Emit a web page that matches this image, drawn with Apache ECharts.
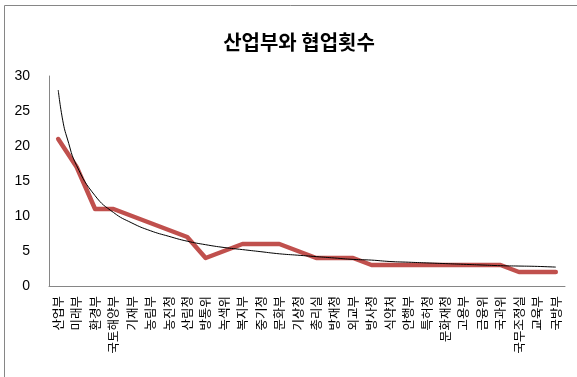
<!DOCTYPE html>
<html><head><meta charset="utf-8">
<script src="https://cdn.jsdelivr.net/npm/echarts@6/dist/echarts.min.js"></script>
<style>html,body{margin:0;padding:0;background:#fff}#c{width:577px;height:377px}</style>
</head><body><div id="c"></div>
<script>
const title = '산업부와 협업횟수';
const categories = ['산업부','미래부','환경부','국토해양부','기재부','농림부','농진청','산림청','방통위','녹색위',
  '복지부','중기청','문화부','기상청','총리실','방재청','외교부','방사청','식약처','안행부',
  '특허청','문화재청','고용부','금융위','국과위','국무조정실','교육부','국방부'];
const counts = [21,17,11,11,10,9,8,7,4,5,6,6,6,5,4,4,4,3,3,3,3,3,3,3,3,2,2,2];
// trend line (black) at category positions
const trendX = [1,1.25,1.5,2,3,4,5,6,7,8,9,10,11,12,13,14,15,16,17,18,19,20,21,22,23,24,25,26,27,28];
const trendY = [28,23.6,21.0,17.2,12.9,10.5,9.0,7.9,7.1,6.4,5.9,5.5,5.2,4.9,4.6,4.4,4.2,4.0,3.8,3.7,3.5,3.4,3.3,3.2,3.1,3.0,2.9,2.85,2.8,2.7];
const yMin = 0, yMax = 30, yStep = 5;

const chart = echarts.init(document.getElementById('c'), null, {renderer:'canvas'});
chart.setOption({
  animation:false,
  backgroundColor:'#fff',
  title:{text:title,left:294,textAlign:'center',top:27,
    textStyle:{fontFamily:'Noto Sans CJK KR',fontSize:20,fontWeight:'bold',color:'#000'}},
  grid:{left:49,right:12,top:76,bottom:91,containLabel:false},
  xAxis:[{type:'category',data:categories,boundaryGap:true,
      axisLine:{lineStyle:{color:'#868686',width:1}},axisTick:{show:false},
      axisLabel:{rotate:90,interval:0,margin:10,fontFamily:'Noto Sans CJK KR',fontSize:12.5,color:'#000'}},
    {type:'value',min:0.5,max:28.5,show:false}],
  yAxis:{type:'value',min:yMin,max:yMax,interval:yStep,
    axisLine:{show:true,lineStyle:{color:'#868686',width:1}},axisTick:{show:false},splitLine:{show:false},
    axisLabel:{margin:19,fontFamily:'Liberation Sans',fontSize:14,color:'#000'}},
  graphic:[{type:'polyline',shape:{points:[[4.5,377],[4.5,5.5],[577,5.5]]},
    style:{stroke:'#868686',lineWidth:1,fill:null}}],
  series:[
    {type:'line',xAxisIndex:0,data:counts,showSymbol:false,
     lineStyle:{color:'#C0504D',width:4.5,join:'round',cap:'round'},z:2},
    {type:'line',xAxisIndex:1,data:trendX.map((x,i)=>[x,trendY[i]]),showSymbol:false,smooth:true,
     lineStyle:{color:'#000',width:1},z:3}
  ]
});
</script></body></html>
